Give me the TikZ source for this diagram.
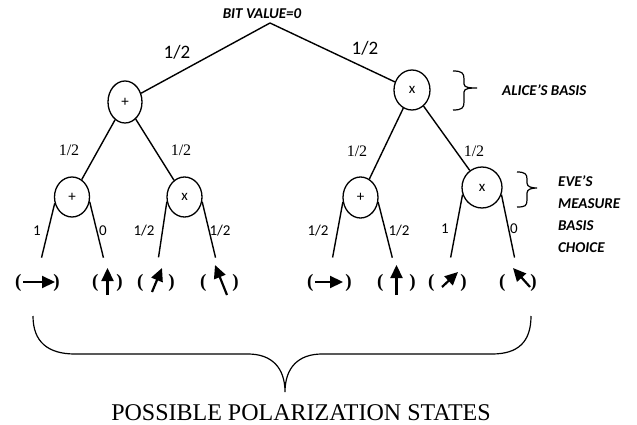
\documentclass[tikz,border=0pt]{standalone}
\usepackage{fontspec}
\setmainfont{Liberation Serif}
\newfontfamily\calib{Carlito}
\usepackage{tikz}
\usetikzlibrary{arrows.meta,calc,shapes.geometric}

\begin{document}
\begin{tikzpicture}[
    x=1pt, y=-1pt,
    basis/.style={draw, ellipse, line width=1.3pt, inner sep=0pt, minimum width=35pt, minimum height=40pt, font=\calib\fontsize{15}{15}\selectfont},
    branch/.style={line width=1.4pt},
    leafedge/.style={branch, shorten >=17pt},
    probtop/.style={font=\calib\fontsize{19}{19}\selectfont},
    probmid/.style={font=\fontsize{16}{16}\selectfont},
    problow/.style={font=\calib\fontsize{15}{15}\selectfont},
    leaf/.style={inner sep=0pt, font=\bfseries\fontsize{19}{19}\selectfont},
    pol/.style={line width=2.2pt, -{Triangle[length=13pt,width=12pt]}},
    note/.style={inner sep=0pt, font=\calib\bfseries\itshape\fontsize{15}{22}\selectfont},
    bracket/.style={line width=1.2pt}
]
\useasboundingbox (0,0) rectangle (637,425);

% Root
\node[note] (bit) at (262,13.5) {BIT VALUE=0};
\coordinate (top) at (270,23);

% Alice's basis
\node[basis, minimum width=34pt, minimum height=42pt] (a1) at (125,102) {+};
\node[basis, minimum width=36pt] (a2) at (412,90) {x};
\draw[branch] (top) -- (a1);
\draw[branch] (top) -- (a2);
\node[probtop] (pa1) at (177,52) {1/2};
\node[probtop] (pa2) at (365,48) {1/2};

% Eve's measurement basis
\node[basis] (e1) at (72,197) {+};
\node[basis] (e2) at (184.5,197) {x};
\node[basis, minimum height=41pt] (e3) at (360.5,197.5) {+};
\node[basis, minimum width=40pt, minimum height=41pt] (e4) at (482,187.5) {x};
\draw[branch] (a1) -- (e1);
\draw[branch] (a1) -- (e2);
\draw[branch] (a2) -- (e3);
\draw[branch] (a2) -- (e4);
\node[probmid] (pe1) at (69,150) {1/2};
\node[probmid] (pe2) at (181,150) {1/2};
\node[probmid] (pe3) at (357,151) {1/2};
\node[probmid] (pe4) at (474,151) {1/2};

% Polarization states
\node[leaf] (l1) at (37.5,283) {(\hspace{32pt})};
\node[leaf] (l2) at (107.5,283) {(\hspace{18pt})};
\node[leaf] (l3) at (156,283) {(\hspace{25pt})};
\node[leaf] (l4) at (219.5,283) {(\hspace{26pt})};
\node[leaf] (r1) at (329.5,283) {(\hspace{32pt})};
\node[leaf] (r2) at (396.5,283) {(\hspace{26pt})};
\node[leaf] (r3) at (447.5,283) {(\hspace{26pt})};
\node[leaf] (r4) at (518,283) {(\hspace{25pt})};

\draw[pol] ($(l1)+(-14.5,-1)$) -- ($(l1)+(17.5,-1)$);
\draw[pol] ($(l2)+(0,12)$) -- ($(l2)+(0,-15)$);
\draw[pol] ($(l3)+(-4,9)$) -- ($(l3)+(6,-15)$);
\draw[pol] ($(l4)+(7.5,12)$) -- ($(l4)+(-4.5,-18)$);
\draw[pol] ($(r1)+(-14.5,-1)$) -- ($(r1)+(13.5,-1)$);
\draw[pol] ($(r2)+(0,12)$) -- ($(r2)+(0,-18)$);
\draw[pol] ($(r3)+(-5.5,4)$) -- ($(r3)+(10.5,-11)$);
\draw[pol] ($(r4)+(12,4)$) -- ($(r4)+(-5,-15)$);

\draw[leafedge] (e1.200) -- (l1.north);
\draw[leafedge] (e1.345) -- (l2.north);
\draw[leafedge] (e2.195) -- (l3.north);
\draw[leafedge] (e2.345) -- (l4.north);
\draw[leafedge] (e3.195) -- (r1.north);
\draw[leafedge] (e3.345) -- (r2.north);
\draw[leafedge] (e4.200) -- (r3.north);
\draw[leafedge] (e4.340) -- (r4.north);

\node[problow] (q1) at (37,231) {1};
\node[problow] (q2) at (103,231) {0};
\node[problow] (q3) at (144,231) {1/2};
\node[problow] (q4) at (220,231) {1/2};
\node[problow] (q5) at (318,231) {1/2};
\node[problow] (q6) at (399,231) {1/2};
\node[problow] (q7) at (445,229) {1};
\node[problow] (q8) at (514,229) {0};

% Side notes
\draw[bracket] (453,71) .. controls +(9,0) and +(0,-6) .. ++(11,8) -- ++(0,5)
  .. controls +(0,4) and +(-6,0) .. ++(13,4) .. controls +(-6,0) and +(0,-4) .. ++(-13,4)
  -- ++(0,10) .. controls +(0,6) and +(9,0) .. ++(-11,8);
\node[note, anchor=west] (alice) at (502,90.5) {ALICE’S BASIS};

\draw[bracket] (517,172) .. controls +(8,0) and +(0,-5) .. ++(10,7) -- ++(0,4)
  .. controls +(0,4) and +(-5,0) .. ++(10,5) .. controls +(-5,0) and +(0,-4) .. ++(-10,5)
  -- ++(0,7) .. controls +(0,6) and +(8,0) .. ++(-10,7);
\node[note, anchor=north west, align=left] (eve) at (558,175) {EVE’S\\MEASURE\\BASIS\\CHOICE};

% All states
\draw[bracket] (33,316) .. controls (33,342) and (48,354) .. (75,354) -- (248,354)
  .. controls (272,354) and (285,368) .. (285,392) .. controls (285,368) and (298,354) .. (322,354)
  -- (492,354) .. controls (518,354) and (531,342) .. (531,316);
\node[font=\fontsize{24}{24}\selectfont] (states) at (301,412.5) {POSSIBLE POLARIZATION STATES};
\end{tikzpicture}
\end{document}
